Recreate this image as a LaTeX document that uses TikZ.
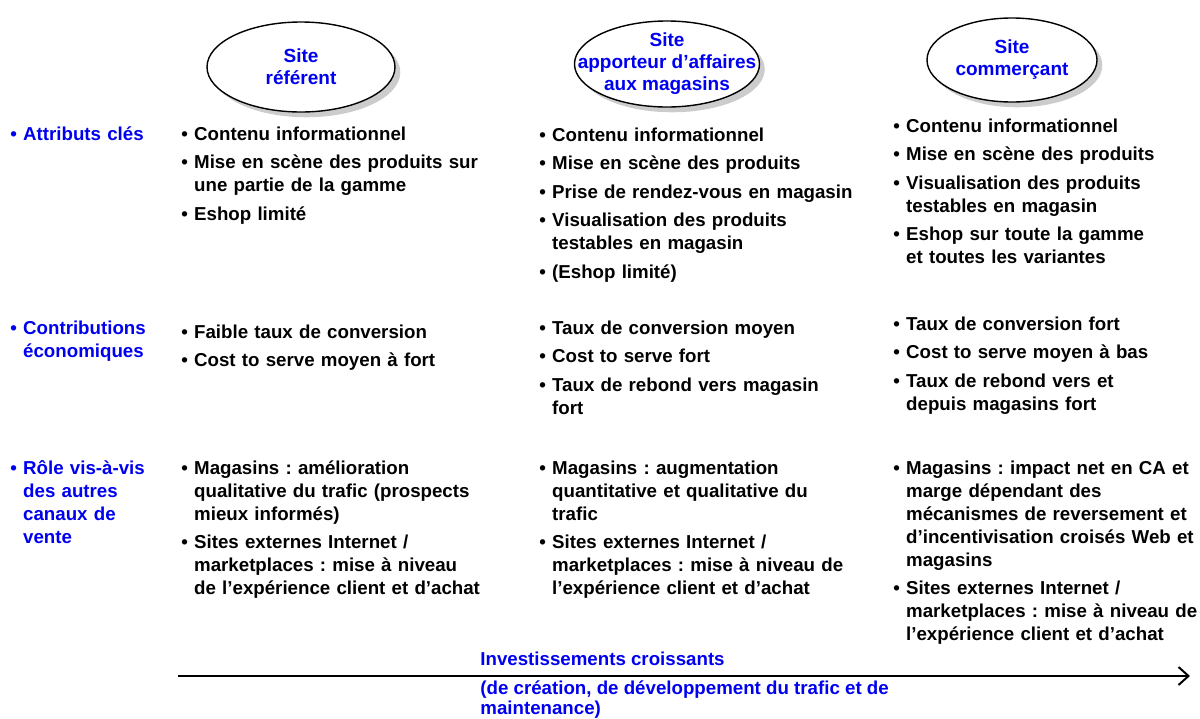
\documentclass[tikz,border=0pt]{standalone}
\usepackage{fontspec}
\setmainfont{Liberation Sans}
\usepackage{tikz}
\usetikzlibrary{arrows.meta,shapes.geometric,shadows}
\definecolor{siteblue}{RGB}{0,0,240}
\def\bul#1{\par\setbox0\hbox{\textbullet\ }\hangindent=\wd0\hangafter=1\noindent\strut\box0 #1\par}

\begin{document}
\begin{tikzpicture}[x=0.5pt, y=-0.5pt,
		site/.style={ellipse, draw, line width=0.7pt, fill=white, drop shadow={opacity=0.4}, inner sep=0pt},
		sitetxt/.style={inner sep=0pt, align=center, text=siteblue, font=\bfseries\fontsize{9.5}{11}\selectfont},
		txt/.style={anchor=north west, inner sep=0pt, text width=170pt, align=left, font=\bfseries\fontsize{9.35}{11.5}\selectfont, execute at begin node={\setlength{\parskip}{2.8pt}\frenchspacing}},
		lbl/.style={txt, text=siteblue, text width=80pt},
		axislbl/.style={inner sep=0pt, align=left, text=siteblue, font=\bfseries\fontsize{9.35}{10}\selectfont}]
		%%%%% START %%%%%
		
		\useasboundingbox (0, 0) rectangle (1200, 718);
		
		\node[site, minimum width=94pt, minimum height=45pt] (referent) at (301, 67) {};
		\node[sitetxt] (referenttxt) at (referent) {Site\\référent};
		\node[site, minimum width=92.5pt, minimum height=43pt] (apporteur) at (667, 64) {};
		\node[sitetxt] (apporteurtxt) at (apporteur) {Site\\apporteur d’affaires\\aux magasins};
		\node[site, minimum width=85pt, minimum height=42pt] (commercant) at (1012, 60) {};
		\node[sitetxt] (commercanttxt) at (commercant) {Site\\commerçant};
		
		\node[lbl] (attributs) at (10, 111) {\bul{Attributs clés}};
		\node[lbl] (contrib) at (10, 305) {\bul{Contributions\newline économiques}};
		\node[lbl] (role) at (10, 445) {\bul{Rôle vis-à-vis\newline des autres\newline canaux de\newline vente}};
		
		\node[txt] (refattr) at (181, 111) {\bul{Contenu informationnel}\bul{Mise en scène des produits sur\newline une partie de la gamme}\bul{Eshop limité}};
		\node[txt] (refcontrib) at (181, 309) {\bul{Faible taux de conversion}\bul{Cost to serve moyen à fort}};
		\node[txt] (refrole) at (181, 445) {\bul{Magasins : amélioration\newline qualitative du trafic (prospects\newline mieux informés)}\bul{Sites externes Internet /\newline marketplaces : mise à niveau\newline de l’expérience client et d’achat}};
		
		\node[txt] (appattr) at (539, 112) {\bul{Contenu informationnel}\bul{Mise en scène des produits}\bul{Prise de rendez-vous en magasin}\bul{Visualisation des produits\newline testables en magasin}\bul{(Eshop limité)}};
		\node[txt] (appcontrib) at (539, 305) {\bul{Taux de conversion moyen}\bul{Cost to serve fort}\bul{Taux de rebond vers magasin\newline fort}};
		\node[txt] (approle) at (539, 445) {\bul{Magasins : augmentation\newline quantitative et qualitative du\newline trafic}\bul{Sites externes Internet /\newline marketplaces : mise à niveau de\newline l’expérience client et d’achat}};
		
		\node[txt] (comattr) at (893, 103) {\bul{Contenu informationnel}\bul{Mise en scène des produits}\bul{Visualisation des produits\newline testables en magasin}\bul{Eshop sur toute la gamme\newline et toutes les variantes}};
		\node[txt] (comcontrib) at (893, 301) {\bul{Taux de conversion fort}\bul{Cost to serve moyen à bas}\bul{Taux de rebond vers et\newline depuis magasins fort}};
		\node[txt] (comrole) at (893, 445) {\bul{Magasins : impact net en CA et\newline marge dépendant des\newline mécanismes de reversement et\newline d’incentivisation croisés Web et\newline magasins}\bul{Sites externes Internet /\newline marketplaces : mise à niveau de\newline l’expérience client et d’achat}};
		
		\coordinate (invstart) at (178, 676);
		\coordinate (invend) at (1190, 676);
		\draw[line width=1pt, -{Straight Barb[length=5pt, width=9pt]}] (invstart) -- (invend);
		
		\node[axislbl, anchor=west] (invest) at (480, 659) {Investissements croissants};
		\node[axislbl, anchor=north west] (investnote) at (480, 680) {(de création, de développement du trafic et de\\maintenance)};
		
		%%%%% END %%%%%
\end{tikzpicture}
\end{document}
